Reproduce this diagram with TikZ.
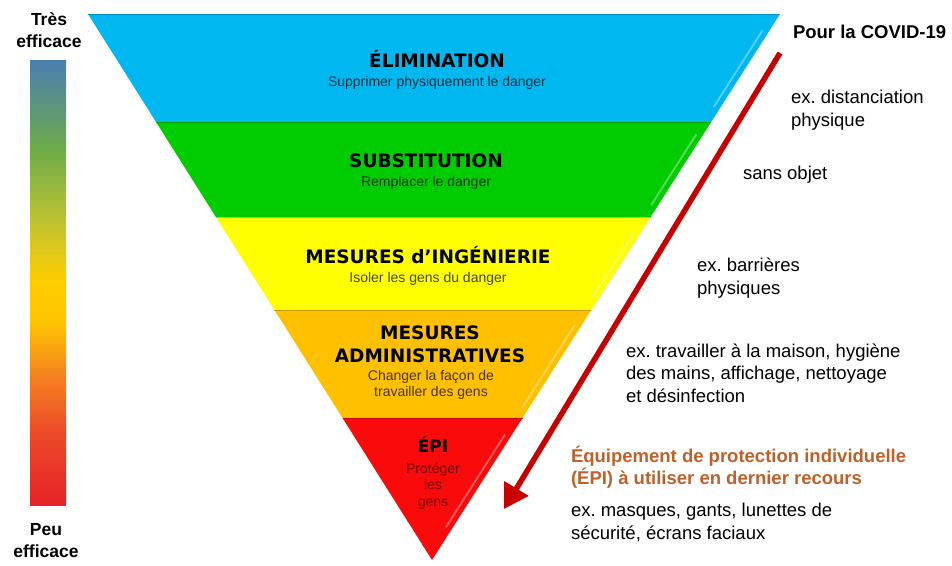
\documentclass[tikz,border=0pt]{standalone}
\usepackage{fontspec}
\setmainfont{Liberation Sans}
\newfontfamily\headfont{DejaVu Sans}
\usepackage{tikz}
\usetikzlibrary{calc,arrows.meta}
\frenchspacing

\definecolor{elimblue}{RGB}{0,183,240}
\definecolor{substgreen}{RGB}{0,204,0}
\definecolor{ingenyellow}{RGB}{255,255,0}
\definecolor{adminorange}{RGB}{255,192,0}
\definecolor{epired}{RGB}{250,10,10}
\definecolor{arrowred}{RGB}{200,0,0}
\definecolor{epiorange}{RGB}{192,96,40}
% gradient bar stops
\definecolor{barA}{RGB}{74,126,176}
\definecolor{barB}{RGB}{110,172,72}
\definecolor{barC}{RGB}{190,195,50}
\definecolor{barD}{RGB}{255,205,0}
\definecolor{barE}{RGB}{255,198,0}
\definecolor{barF}{RGB}{245,130,32}
\definecolor{barG}{RGB}{236,76,40}
\definecolor{barH}{RGB}{230,34,40}

\begin{document}
\begin{tikzpicture}[x=1pt,y=-1pt,inner sep=0pt,outer sep=0pt,
    every node/.style={font=\fontsize{18.5}{22.5}\selectfont},
    head/.style={font=\headfont\bfseries\fontsize{18.5}{23}\selectfont, align=center},
    sub/.style={font=\fontsize{14}{15.5}\selectfont, text=black, text opacity=0.72, align=center},
    note/.style={anchor=base west, align=left},
    scale label/.style={font=\bfseries\fontsize{17.5}{22}\selectfont, align=center}]
    \useasboundingbox (0,0) rectangle (952,565);

    % triangle corners
    \coordinate (tl) at (88,14);
    \coordinate (tr) at (780,14);
    \coordinate (apex) at (432,560);

    % bands
    \foreach \ta/\tb/\col in {0/0.1978/elimblue, 0.1978/0.3718/substgreen,
        0.3718/0.5421/ingenyellow, 0.5421/0.7399/adminorange, 0.7399/1/epired}
    {
        \fill[\col] ($(tl)!\ta!(apex)$) -- ($(tr)!\ta!(apex)$)
            -- ($(tr)!\tb!(apex)$) -- ($(tl)!\tb!(apex)$) -- cycle;
        \draw[\col!80!black, line width=0.8pt] ($(tl)!\ta!(apex)$) -- ($(tr)!\ta!(apex)$);
    }
    % bevel highlights
    \foreach \ha/\hb in {0.03/0.17, 0.22/0.35, 0.40/0.52, 0.57/0.72, 0.77/0.94}
        \draw[white, opacity=0.35, line width=1.8pt]
            ($(tr)!\ha!(apex)+(-7,0)$) -- ($(tr)!\hb!(apex)+(-7,0)$);

    % band labels (multi-line nodes sit on their last baseline)
    \node[head, anchor=base] (elim) at (437,67) {ÉLIMINATION};
    \node[sub, anchor=base] (elim_sub) at (437,86) {Supprimer physiquement le danger};
    \node[head, anchor=base] (subst) at (426,167) {SUBSTITUTION};
    \node[sub, anchor=base] (subst_sub) at (426,186) {Remplacer le danger};
    \node[head, anchor=base] (ingen) at (428,263) {MESURES d’INGÉNIERIE};
    \node[sub, anchor=base] (ingen_sub) at (428,282) {Isoler les gens du danger};
    \node[head, anchor=base] (admin) at (430,362) {MESURES\\ADMINISTRATIVES};
    \node[sub, anchor=base] (admin_sub) at (431,396) {Changer la façon de\\travailler des gens};
    \node[head, anchor=base, font=\headfont\bfseries\fontsize{17}{20}\selectfont] (epi) at (433,452) {ÉPI};
    \node[sub, anchor=base, text opacity=0.55, font=\fontsize{14}{16.5}\selectfont] (epi_sub) at (433,506) {Protéger\\les\\gens};

    % effectiveness scale
    \foreach \ya/\yb/\ca/\cb in {60/150.5/barA/barB, 150/220.5/barB/barC, 220/280.5/barC/barD,
        280/320.5/barD/barE, 320/375.5/barE/barF, 375/430.5/barF/barG, 430/505/barG/barH}
        \shade[top color=\ca, bottom color=\cb] (30,\ya) rectangle (66,\yb);
    \node[scale label, anchor=base] (tres) at (49,47) {Très\\efficace};
    \node[scale label, anchor=base] (peu) at (46,557) {Peu\\efficace};

    % covid notes
    \node[note, font=\bfseries\fontsize{18.5}{22}\selectfont] (covid) at (793,38) {Pour la COVID-19};
    \node[note] (ex_elim) at (791,126) {ex. distanciation\\physique};
    \node[note] (ex_subst) at (743,179) {sans objet};
    \node[note] (ex_ingen) at (697,294) {ex. barrières\\physiques};
    \node[note] (ex_admin) at (626,402) {ex. travailler à la maison, hygiène\\des mains, affichage, nettoyage\\et désinfection};
    \node[note, text=epiorange, font=\bfseries\fontsize{18.5}{22}\selectfont] (epi_note) at (571,484)
        {Équipement de protection individuelle\\(ÉPI) à utiliser en dernier recours};
    \node[note] (ex_epi) at (571,539) {ex. masques, gants, lunettes de\\sécurité, écrans faciaux};

    % order of use
    \coordinate (arrow_top) at (780,53);
    \coordinate (arrow_tip) at (504,509);
    \draw[arrowred, line width=5.5pt, -{Triangle[length=24pt,width=27pt]}] (arrow_top) -- (arrow_tip);
\end{tikzpicture}
\end{document}
